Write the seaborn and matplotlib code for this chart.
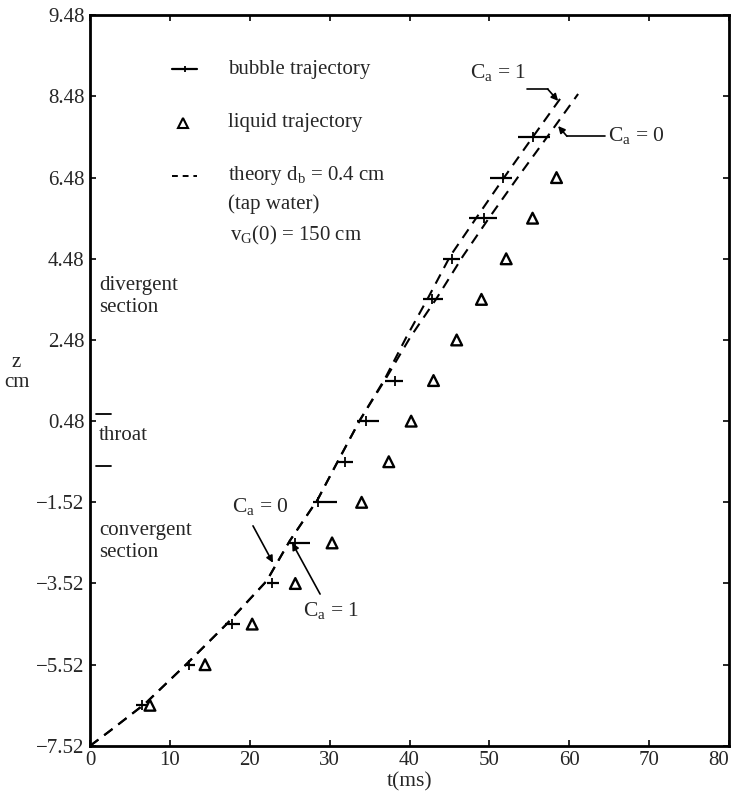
import numpy as np
import pandas as pd
import matplotlib
matplotlib.use("Agg")
import matplotlib.pyplot as plt
import seaborn as sns

# ---------------- data ----------------
bubble_t = [6.5, 12.4, 17.8, 22.8, 25.7, 28.5, 31.9, 34.6, 38.2, 42.8, 45.3, 49.3, 51.7, 55.5]
bubble_z = [-6.52, -5.52, -4.52, -3.52, -2.52, -1.52, -0.52, 0.48, 1.48, 3.48, 4.48, 5.48, 6.48, 7.48]
bubble_tmin = [5.8, 11.9, 16.9, 22.2, 24.9, 27.9, 31.0, 33.4, 36.9, 41.7, 44.2, 47.5, 50.1, 53.6]
bubble_tmax = [7.2, 13.1, 18.8, 23.6, 27.5, 30.9, 32.9, 36.2, 39.2, 44.2, 46.3, 51.0, 52.8, 57.6]

liquid_t = [7.5, 14.4, 20.3, 25.7, 30.3, 34.0, 37.4, 40.2, 43.0, 45.9, 49.0, 52.1, 55.4, 58.4]
liquid_z = [-6.52, -5.52, -4.52, -3.52, -2.52, -1.52, -0.52, 0.48, 1.48, 2.48, 3.48, 4.48, 5.48, 6.48]

theory_ca1_t = [0.0, 2.5, 6.9, 12.1, 17.1, 22.1, 25.0, 28.5, 31.1, 33.8, 36.9, 39.6, 42.3, 45.1, 48.4, 51.9, 55.5, 59.1]
theory_ca1_z = [-7.52, -7.15, -6.48, -5.50, -4.52, -3.46, -2.47, -1.45, -0.48, 0.51, 1.52, 2.55, 3.51, 4.55, 5.50, 6.50, 7.50, 8.49]
theory_ca0_t = [0.0, 2.5, 6.9, 12.1, 17.1, 22.1, 25.0, 28.5, 31.1, 33.8, 37.0, 40.1, 43.4, 46.7, 50.0, 53.6, 57.3, 61.1]
theory_ca0_z = [-7.52, -7.15, -6.48, -5.50, -4.52, -3.46, -2.47, -1.45, -0.48, 0.51, 1.52, 2.55, 3.51, 4.55, 5.50, 6.50, 7.50, 8.54]

xtick_values = [0, 10, 20, 30, 40, 50, 60, 70, 80]
ytick_values = [-7.52, -5.52, -3.52, -1.52, 0.48, 2.48, 4.48, 6.48, 8.48, 10.48]
ytick_labels = ["\u22127.52", "\u22125.52", "\u22123.52", "\u22121.52", "0.48", "2.48",
                "4.48", "6.48", "8.48", "9.48"]

# ---------------- style ----------------
sns.set_style("ticks")
plt.rcParams["font.family"] = ["Liberation Serif", "DejaVu Serif"]
plt.rcParams["mathtext.fontset"] = "custom"
plt.rcParams["mathtext.rm"] = "Liberation Serif"
FS = 15

fig = plt.figure(figsize=(7.32, 8.02), dpi=100)
ax = fig.add_axes([0.123, 0.070, 0.873, 0.911])

# theory curves
sns.lineplot(x=theory_ca1_t, y=theory_ca1_z, sort=False, estimator=None, ax=ax,
             color="black", linewidth=1.5, linestyle=(0, (5, 3.5)))
sns.lineplot(x=theory_ca0_t, y=theory_ca0_z, sort=False, estimator=None, ax=ax,
             color="black", linewidth=1.5, linestyle=(0, (5, 3.5)))

# bubble trajectory: horizontal bars with a small centre tick
ax.hlines(bubble_z, bubble_tmin, bubble_tmax, color="black", linewidth=1.6)
sns.scatterplot(x=bubble_t, y=bubble_z, marker="|", s=45, color="black",
                linewidth=1.3, ax=ax)

# liquid trajectory: open triangles
sns.scatterplot(x=liquid_t, y=liquid_z, marker="^", s=60, ax=ax,
                facecolor="none", edgecolor="black", linewidth=1.7)
ax.collections[-1].set_facecolor("none")

# ---------------- axes ----------------
ax.set_xlim(0, 80)
ax.set_ylim(-7.52, 10.48)
ax.set_xticks(xtick_values)
ax.set_xticklabels([str(v) for v in xtick_values], fontsize=FS)
ax.get_xticklabels()[-1].set_horizontalalignment("right")
ax.set_yticks(ytick_values)
ax.set_yticklabels(ytick_labels, fontsize=FS)
ax.tick_params(direction="in", length=4, width=1.4, top=True, right=True, pad=4)
for sp in ax.spines.values():
    sp.set_visible(True)
    sp.set_linewidth(2.0)
    sp.set_color("black")
ax.set_xlabel("t(ms)", fontsize=FS + 0.5, labelpad=1)
ax.set_ylabel("")
ax.text(-0.115, 1.92, "z", transform=ax.get_yaxis_transform(), ha="center",
        va="center", fontsize=FS)
ax.text(-0.115, 1.42, "cm", transform=ax.get_yaxis_transform(), ha="center",
        va="center", fontsize=FS)

# ---------------- legend (drawn by hand like the original) ----------------
ax.plot([10.3, 13.4], [9.15, 9.15], color="black", lw=1.6)
ax.plot([11.9], [9.15], marker="|", ms=5, color="black", mew=1.3)
ax.plot([11.6], [7.83], marker="^", ms=7, mfc="none", mec="black", mew=1.5)
ax.plot([10.3, 13.4], [6.52, 6.52], color="black", lw=1.4, linestyle=(0, (3, 2.5)))
ax.text(17.3, 9.15, "bubble trajectory", fontsize=FS, va="center")
ax.text(17.3, 7.83, "liquid trajectory", fontsize=FS, va="center")
ax.text(17.3, 6.52, r"theory d$_\mathregular{b}$ = 0.4 cm", fontsize=FS, va="center")
ax.text(17.3, 5.83, "(tap water)", fontsize=FS, va="center")
ax.text(17.5, 5.06, r"v$_\mathregular{G}$(0) = 150 cm", fontsize=FS, va="center")

# ---------------- section labels ----------------
ax.text(1.1, 3.81, "divergent", fontsize=FS, va="center")
ax.text(1.1, 3.27, "section", fontsize=FS, va="center")
ax.text(1.1, 0.12, "throat", fontsize=FS, va="center")
ax.plot([0.8, 2.6], [0.66, 0.66], color="black", lw=1.3)
ax.plot([0.8, 2.6], [-0.62, -0.62], color="black", lw=1.3)
ax.text(1.1, -2.22, "convergent", fontsize=FS, va="center")
ax.text(1.1, -2.75, "section", fontsize=FS, va="center")

# ---------------- C_a annotations ----------------
arrow = dict(arrowstyle="-|>", color="black", lw=1.2, mutation_scale=10,
             shrinkA=0, shrinkB=0)
CFS = FS + 0.5
# top, C_a = 1
ax.text(47.6, 8.93, r"C$_\mathregular{a}$ = 1", fontsize=CFS, va="baseline")
ax.plot([54.7, 57.3], [8.66, 8.66], color="black", lw=1.2)
ax.annotate("", xy=(58.6, 8.37), xytext=(57.3, 8.66), arrowprops=arrow)
# top, C_a = 0
ax.text(64.8, 7.38, r"C$_\mathregular{a}$ = 0", fontsize=CFS, va="baseline")
ax.plot([59.7, 64.5], [7.50, 7.50], color="black", lw=1.2)
ax.annotate("", xy=(58.6, 7.75), xytext=(59.7, 7.50), arrowprops=arrow)
# lower, C_a = 0
ax.text(17.8, -1.78, r"C$_\mathregular{a}$ = 0", fontsize=CFS, va="baseline")
ax.annotate("", xy=(22.9, -3.01), xytext=(20.4, -2.10), arrowprops=arrow)
# lower, C_a = 1
ax.text(26.7, -4.32, r"C$_\mathregular{a}$ = 1", fontsize=CFS, va="baseline")
ax.annotate("", xy=(25.3, -2.52), xytext=(28.8, -3.78), arrowprops=arrow)

fig.savefig("out.png", dpi=100)
